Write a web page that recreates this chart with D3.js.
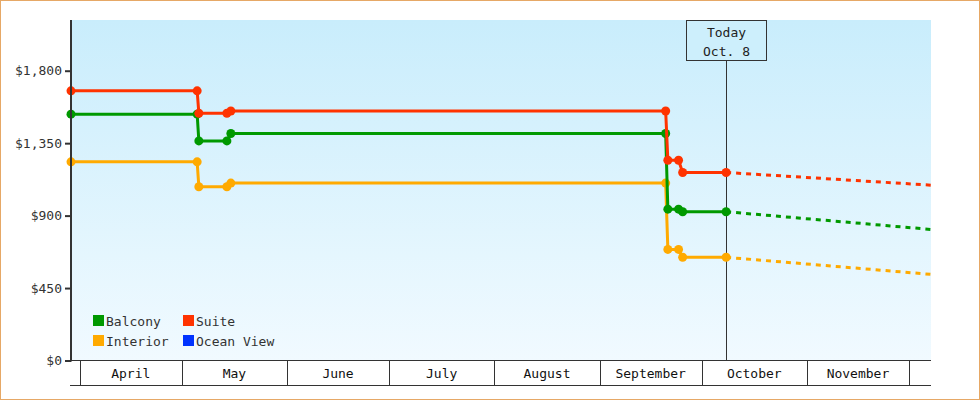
<!DOCTYPE html>
<html><head><meta charset="utf-8">
<script src="https://cdn.jsdelivr.net/npm/d3@7"></script>
<style>
html,body{margin:0;padding:0;background:#fff;}
svg{display:block;}
text{font-family:"DejaVu Sans Mono",monospace;font-size:13px;}
</style></head>
<body><svg id="chart" width="980" height="400"></svg>
<script>
// ---- data ----
const dates = ["2023-03-29T10:00","2023-05-05T13:00","2023-05-06T01:00","2023-05-14T07:00","2023-05-15T11:00",
               "2023-09-20T10:00","2023-09-21T01:30","2023-09-24T05:00","2023-09-25T10:00","2023-10-08T05:00"];
const balcony  = [1530,1530,1364,1364,1410,1410,940,940,924,924];
const suite    = [1675,1675,1536,1536,1550,1550,1244,1244,1168,1168];
const interior = [1234,1234,1079,1079,1102,1102,690,690,641,641];
const projectionEnd = "2023-12-07T12:00";
const balconyProj = 814, suiteProj = 1089, interiorProj = 535;
const todayDate = "2023-10-08T05:00";
const todayLabel = ["Today","Oct. 8"];
const yTicks = [0,450,900,1350,1800];
const monthLabels = ["April","May","June","July","August","September","October","November"];
const legendNames = ["Balcony","Suite","Interior","Ocean View"];
const legendColors = ["#009900","#ff3300","#ffaa00","#0033ff"];

// ---- setup ----
const svg = d3.select("#chart");
const parse = d3.isoParse;
const L = 71, R = 931, T = 20, B = 360.5;
const x = d3.scaleTime().domain([parse(dates[0]), parse(projectionEnd)]).range([L, R]);
const y = d3.scaleLinear().domain([0, 2115]).range([B, T]);

// border
svg.append("rect").attr("x",0.5).attr("y",0.5).attr("width",979).attr("height",399)
  .attr("fill","#fff").attr("stroke","#e6a866").attr("stroke-width",1);

// gradient background
const defs = svg.append("defs");
const g = defs.append("linearGradient").attr("id","bg").attr("x1",0).attr("y1",0).attr("x2",0).attr("y2",1);
g.append("stop").attr("offset","0%").attr("stop-color","#c9edfc");
g.append("stop").attr("offset","100%").attr("stop-color","#f1faff");
svg.append("rect").attr("x",L).attr("y",T).attr("width",R-L).attr("height",B-T).attr("fill","url(#bg)");

// today line + box
const tx = Math.round(x(parse(todayDate))) + 0.5;
svg.append("line").attr("x1",tx).attr("x2",tx).attr("y1",60.5).attr("y2",B)
  .attr("stroke","#333").attr("stroke-width",1);
svg.append("rect").attr("x",tx-40).attr("y",20.5).attr("width",80).attr("height",40)
  .attr("fill","#cdeffc").attr("stroke","#333").attr("stroke-width",1);
svg.append("text").attr("x",tx).attr("y",37).attr("text-anchor","middle").attr("fill","#222").text(todayLabel[0]);
svg.append("text").attr("x",tx).attr("y",55.5).attr("text-anchor","middle").attr("fill","#222").text(todayLabel[1]);

// series (drawn bottom to top: interior, balcony, suite)
const series = [
  {name:"Interior", vals:interior, proj:interiorProj, color:"#ffaa00"},
  {name:"Balcony", vals:balcony, proj:balconyProj, color:"#009900"},
  {name:"Suite", vals:suite, proj:suiteProj, color:"#ff3300"}
];
const line = d3.line().x(d=>x(d[0])).y(d=>y(d[1]));
series.forEach(s=>{
  const pts = dates.map((d,i)=>[parse(d), s.vals[i]]);
  const last = pts[pts.length-1];
  svg.append("path").attr("d", line([last,[parse(projectionEnd), s.proj]]))
    .attr("fill","none").attr("stroke",s.color).attr("stroke-width",3).attr("stroke-dasharray","5,5");
  svg.append("path").attr("d", line(pts)).attr("fill","none").attr("stroke",s.color)
    .attr("stroke-width",3).attr("stroke-linejoin","round");
  svg.append("g").selectAll("circle").data(pts).join("circle")
    .attr("cx",d=>x(d[0])).attr("cy",d=>y(d[1])).attr("r",4.5).attr("fill",s.color);
});

// y axis
const yAxis = d3.axisLeft(y).tickValues(yTicks).tickSize(6).tickPadding(3)
  .tickFormat(d=>"$"+d3.format(",")(d));
const ya = svg.append("g").attr("transform",`translate(${L},0)`).call(yAxis);
ya.select(".domain").remove();
ya.selectAll(".tick line").attr("stroke","#333").attr("stroke-width",2);
ya.selectAll(".tick text").attr("fill","#333").style("font-family","DejaVu Sans Mono").style("font-size","13px");
svg.append("line").attr("x1",L).attr("x2",L).attr("y1",T).attr("y2",B+1)
  .attr("stroke","#333").attr("stroke-width",2);

// x axis month bands
svg.append("line").attr("x1",70).attr("x2",R).attr("y1",360.5).attr("y2",360.5).attr("stroke","#333");
svg.append("line").attr("x1",70).attr("x2",R).attr("y1",385.5).attr("y2",385.5).attr("stroke","#333");
const monthStarts = d3.timeMonth.range(d3.timeMonth.ceil(x.domain()[0]), x.domain()[1]);
monthStarts.forEach((m,i)=>{
  const mx = Math.round(x(m)) + 0.5;
  svg.append("line").attr("x1",mx).attr("x2",mx).attr("y1",361).attr("y2",385).attr("stroke","#333");
  if (i < monthLabels.length) {
    const mid = (x(m) + x(d3.timeMonth.offset(m,1)))/2;
    svg.append("text").attr("x",mid).attr("y",378).attr("text-anchor","middle").attr("fill","#111").text(monthLabels[i]);
  }
});

// legend
const lg = svg.append("g");
legendNames.forEach((n,i)=>{
  const col = i%2, row = Math.floor(i/2);
  const lx = 93 + col*90, ly = 315 + row*20;
  lg.append("rect").attr("x",lx).attr("y",ly).attr("width",11).attr("height",11).attr("fill",legendColors[i]);
  lg.append("text").attr("x",lx+13).attr("y",ly+10.5).attr("fill","#333").text(n);
});
</script></body></html>
